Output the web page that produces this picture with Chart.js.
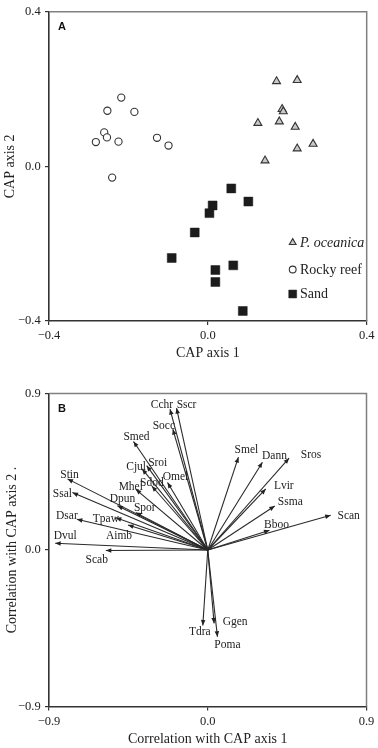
<!DOCTYPE html>
<html><head><meta charset="utf-8">
<script src="https://cdn.jsdelivr.net/npm/chart.js@4/dist/chart.umd.min.js"></script>
<style>
html,body{margin:0;padding:0;background:#fff;}
#wrap{position:relative;width:378px;height:748px;overflow:hidden;}
#cA{position:absolute;left:0;top:0;}
#cB{position:absolute;left:0;top:365px;}
</style></head><body>
<div id="wrap"><canvas id="cA" width="378" height="365"></canvas><canvas id="cB" width="378" height="383"></canvas></div>
<script>
// ---------- Panel A data (CAP ordination scores) ----------
const groupLabels = ['P. oceanica', 'Rocky reef', 'Sand'];
const oceanicaX = [0.173, 0.225, 0.187, 0.190, 0.126, 0.180, 0.220, 0.265, 0.225, 0.144];
const oceanicaY = [0.220, 0.223, 0.148, 0.142, 0.112, 0.116, 0.102, 0.058, 0.046, 0.015];
const rockyX = [-0.282, -0.261, -0.254, -0.253, -0.218, -0.225, -0.185, -0.128, -0.099, -0.241];
const rockyY = [0.063, 0.088, 0.075, 0.144, 0.178, 0.064, 0.141, 0.074, 0.054, -0.029];
const sandX = [0.059, 0.102, 0.012, 0.004, -0.033, -0.091, 0.064, 0.019, 0.019, 0.088];
const sandY = [-0.057, -0.091, -0.101, -0.121, -0.171, -0.237, -0.256, -0.268, -0.299, -0.374];
const ticksA = ['\u22120.4', '0.0', '0.4'];

// ---------- Panel B data (species correlations) ----------
const species = ['Cchr','Sscr','Socc','Smed','Sroi','Cjul','Sdod','Omel','Mhel','Stin','Ssal','Dpun','Spor','Dsar','Tpaw','Aimb','Dvul','Scab','Smel','Dann','Sros','Lvir','Ssma','Scan','Bboo','Tdra','Ggen','Poma'];
const corrAxis1 = [-0.214,-0.177,-0.198,-0.421,-0.346,-0.372,-0.317,-0.228,-0.408,-0.795,-0.767,-0.512,-0.408,-0.742,-0.521,-0.452,-0.865,-0.578,0.174,0.310,0.461,0.329,0.380,0.697,0.350,-0.028,0.036,0.055];
const corrAxis2 = [0.810,0.816,0.695,0.624,0.485,0.466,0.368,0.388,0.349,0.409,0.330,0.255,0.215,0.177,0.186,0.144,0.039,-0.003,0.534,0.505,0.528,0.351,0.253,0.200,0.113,-0.434,-0.422,-0.499];
const ticksB = ['\u22120.9', '0.0', '0.9'];

// ---------- styling / layout ----------
const SERIF = "'Liberation Serif','Times New Roman',serif";
const SANS = "'Liberation Sans',Arial,sans-serif";
const INK = '#222';
// label nudges (pixels) relative to arrow tips
const labelNudge = {
  Cchr:[-8,-4], Sscr:[10,-3], Socc:[-9,-3], Smed:[3,-5], Sroi:[11,-3], Cjul:[-6,-2], Sdod:[0,-3], Omel:[8,-6],
  Mhel:[-5,-2], Stin:[2,-4], Ssal:[-10,1], Dpun:[5,-7], Spor:[9,-5], Dsar:[-10,-3], Tpaw:[-10,1], Aimb:[-9,11],
  Dvul:[10,-7], Scab:[-9,9.5], Smel:[8,-7], Dann:[12,-6], Sros:[22,-3], Lvir:[18,-3], Ssma:[15.5,-4], Scan:[18,1],
  Bboo:[7,-5], Tdra:[-3,7], Ggen:[21,-1], Poma:[10,8]
};

const framePlugin = {
  id: 'frame',
  afterDraw(chart, args, opts) {
    const {ctx, chartArea: a} = chart;
    ctx.save();
    ctx.strokeStyle = '#808080';
    ctx.lineWidth = 1.5;
    ctx.beginPath();
    ctx.moveTo(a.left, a.top); ctx.lineTo(a.right, a.top); ctx.lineTo(a.right, a.bottom);
    ctx.stroke();
    ctx.fillStyle = '#111';
    ctx.font = 'bold 11px ' + SANS;
    ctx.textAlign = 'left'; ctx.textBaseline = 'middle';
    ctx.fillText(opts.letter, a.left + 9, a.top + 15);
    ctx.restore();
  }
};

function scaleCommon(min, max, labels, titleText, isX, titlePad) {
  return {
    type: 'linear', min, max,
    ticks: {
      stepSize: max, font: {family: SERIF, size: 12.5}, color: INK,
      padding: isX ? 3.5 : 4.3,
      callback: (v, i) => labels[i]
    },
    grid: {display: true, drawOnChartArea: false, drawTicks: true, tickLength: 4, color: '#333', lineWidth: 1.2},
    border: {display: true, color: '#333', width: 1.6},
    title: {display: true, text: titleText, font: {family: SERIF, size: 14}, color: INK, padding: titlePad}
  };
}

// ---------- Chart A ----------
const legendPlugin = {
  id: 'insetLegend',
  afterDraw(chart) {
    const {ctx} = chart;
    const mk = [
      {style: 'triangle', r: 3.9, fill: '#c9c9c9', stroke: '#333', bw: 1.1},
      {style: 'circle', r: 3.4, fill: '#fff', stroke: '#333', bw: 1.1},
      {style: 'rect', r: 5.6, fill: '#1c1c1c', stroke: '#1c1c1c', bw: 0.5}
    ];
    const ys = [242.5, 269.5, 294];
    chart.data.datasets.forEach((ds, i) => {
      ctx.save();
      ctx.fillStyle = mk[i].fill; ctx.strokeStyle = mk[i].stroke; ctx.lineWidth = mk[i].bw;
      Chart.helpers.drawPoint(ctx, {pointStyle: mk[i].style, radius: mk[i].r, borderWidth: mk[i].bw, rotation: 0}, 292.7, ys[i]);
      ctx.fillStyle = INK;
      ctx.font = (i === 0 ? 'italic ' : '') + '14px ' + SERIF;
      ctx.textAlign = 'left'; ctx.textBaseline = 'middle';
      ctx.fillText(ds.label, 300, ys[i] + 0.5);
      ctx.restore();
    });
  }
};

const xyPairs = (xs, ys) => xs.map((x, i) => ({x, y: ys[i]}));

new Chart(document.getElementById('cA'), {
  type: 'scatter',
  data: {datasets: [
    {label: groupLabels[0], data: xyPairs(oceanicaX, oceanicaY), pointStyle: 'triangle', pointRadius: 4.6, backgroundColor: '#c9c9c9', borderColor: '#333', borderWidth: 1.1},
    {label: groupLabels[1], data: xyPairs(rockyX, rockyY), pointStyle: 'circle', pointRadius: 3.6, backgroundColor: '#fff', borderColor: '#333', borderWidth: 1.1},
    {label: groupLabels[2], data: xyPairs(sandX, sandY), pointStyle: 'rect', pointRadius: 6.3, backgroundColor: '#1c1c1c', borderColor: '#1c1c1c', borderWidth: 0.5}
  ]},
  options: {
    responsive: false, animation: false, devicePixelRatio: 1,
    events: [],
    layout: {padding: {left: 0, top: 8, right: 9, bottom: 0}},
    plugins: {legend: {display: false}, tooltip: {enabled: false}, frame: {letter: 'A'}},
    scales: {
      x: Object.assign(scaleCommon(-0.4, 0.4, ticksA, 'CAP axis 1', true, {top: 0, bottom: 3.6}), {afterFit: s => { s.height = 44; }}),
      y: Object.assign(scaleCommon(-0.4, 0.4, ticksA, 'CAP axis 2', false, {top: 1.8, bottom: 0}), {afterFit: s => { s.width = 49; }})
    }
  },
  plugins: [framePlugin, legendPlugin]
});

// ---------- Chart B ----------
const arrowPlugin = {
  id: 'arrows',
  afterDatasetsDraw(chart) {
    const {ctx} = chart;
    chart.data.datasets.forEach((ds, i) => {
      const meta = chart.getDatasetMeta(i);
      const p0 = meta.data[0], p1 = meta.data[1];
      const ang = Math.atan2(p1.y - p0.y, p1.x - p0.x);
      const L = 5.5, W = 2.3;
      ctx.save();
      ctx.fillStyle = '#222';
      ctx.translate(p1.x, p1.y); ctx.rotate(ang);
      ctx.beginPath(); ctx.moveTo(0, 0); ctx.lineTo(-L, -W); ctx.lineTo(-L, W); ctx.closePath(); ctx.fill();
      ctx.restore();
      const nd = labelNudge[ds.label] || [0, 0];
      ctx.save();
      ctx.fillStyle = INK; ctx.font = '11.5px ' + SERIF;
      ctx.textAlign = 'center'; ctx.textBaseline = 'middle';
      ctx.fillText(ds.label, p1.x + nd[0], p1.y + nd[1]);
      ctx.restore();
    });
  }
};

new Chart(document.getElementById('cB'), {
  type: 'scatter',
  data: {datasets: species.map((sp, i) => ({
    label: sp,
    data: [{x: 0, y: 0}, {x: corrAxis1[i], y: corrAxis2[i]}],
    showLine: true, pointRadius: 0, borderColor: '#2a2a2a', borderWidth: 1.1
  }))},
  options: {
    responsive: false, animation: false, devicePixelRatio: 1,
    events: [],
    layout: {padding: {left: 0, top: 28.5, right: 11.5, bottom: 0}},
    plugins: {legend: {display: false}, tooltip: {enabled: false}, frame: {letter: 'B'}},
    scales: {
      x: Object.assign(scaleCommon(-0.9, 0.9, ticksB, 'Correlation with CAP axis 1', true, {top: 0, bottom: 0.6}), {afterFit: s => { s.height = 41.5; }}),
      y: Object.assign(scaleCommon(-0.9, 0.9, ticksB, 'Correlation with CAP axis 2 .', false, {top: 4, bottom: 0}), {afterFit: s => { s.width = 49; }})
    }
  },
  plugins: [framePlugin, arrowPlugin]
});
</script>
</body></html>
